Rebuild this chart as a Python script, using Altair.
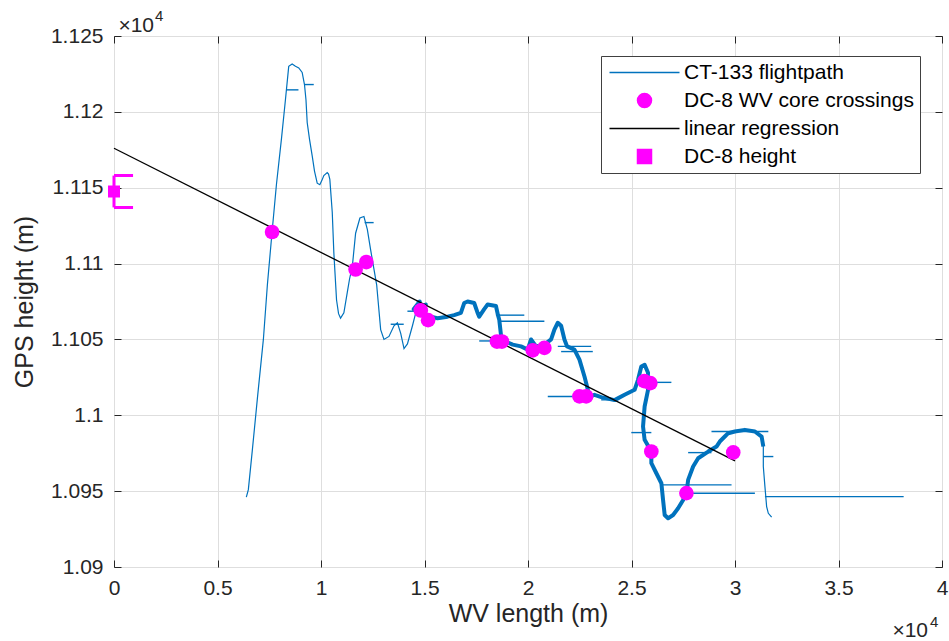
import altair as alt
import pandas as pd

# ---------------- data ----------------
# CT-133 flightpath, main track, in three consecutive stretches
fp_a_x = [6393, 6490, 6683, 6926, 7216, 7410, 7637, 7846, 8088, 8282, 8441, 8606, 8766, 8926,
          9090, 9202, 9274, 9333, 9444, 9575, 9686, 9817, 9943, 10049, 10136, 10301, 10364,
          10427, 10543, 10621, 10751, 10848, 10945, 11105, 11270, 11381, 11512, 11672, 11880,
          12074, 12238, 12398, 12689, 12882, 13042, 13284, 13526, 13691, 13851, 14011, 14175,
          14418, 14577, 14660]
fp_a_y = [10946, 10951, 10977, 11011, 11050, 11086, 11121, 11152, 11182, 11208, 11230, 11231.5,
          11230, 11229, 11226, 11218, 11208, 11193, 11182, 11171, 11161, 11153, 11152, 11155,
          11158, 11160, 11159, 11155.5, 11134, 11107, 11076, 11067, 11064, 11067.5, 11081, 11090,
          11098, 11120, 11130, 11131, 11122.5, 11109, 11086, 11056.5, 11050, 11052, 11059, 11061,
          11054, 11044, 11047, 11059, 11067.5, 11074]

fp_b_x = [14771, 14481, 15062, 14723, 15207, 15304, 15628, 16113, 16432, 16757, 16917, 17081,
          17401, 17566, 17643, 17885, 18050, 18452, 18549, 18612, 18694, 18854, 19261, 19663,
          19987, 20147, 20389, 20791, 21116, 21275, 21440, 21600, 21760, 21890, 22244, 22486,
          22728, 22893, 23000, 23213, 23537, 24182, 24666, 25150, 25315, 25474, 25634, 25799,
          25765, 25799, 25634, 25557, 25634, 25959, 25959, 26201, 26443, 26525, 26603, 26767,
          27009, 27252, 27494, 27654, 27736, 27978, 28220, 28705, 29107, 29266, 29508, 29673,
          29993, 30477, 30961, 31286]
fp_b_y = [11075, 11070, 11073, 11068, 11065.7, 11065, 11064, 11065, 11066, 11067.5, 11074, 11075,
          11074, 11067.5, 11065, 11070, 11073, 11072, 11066, 11063, 11053, 11049, 11046.6, 11045.4,
          11043.3, 11050, 11045.4, 11046.6, 11050, 11056.5, 11061, 11059, 11050, 11045.4, 11043.3,
          11036.7, 11025.6, 11016.8, 11012.4, 11013.5, 11012, 11010, 11013.5, 11016.8, 11023.4,
          11032.2, 11033.3, 11028, 11021.7, 11016.8, 11005.8, 10992.6, 10983.8, 10976.1, 10968.4,
          10961.8, 10955.2, 10944.2, 10934.3, 10932.1, 10934.3, 10938.7, 10944.2, 10948.6, 10957.4,
          10966.2, 10971.7, 10976.1, 10979.4, 10982.7, 10986, 10988.2, 10989.3, 10990.4, 10989.3,
          10986]

fp_c_x = [31368, 31368, 31446, 31528, 31610, 31770]
fp_c_y = [10979.4, 10966.2, 10953, 10939.8, 10935.4, 10932.8]

# horizontal excursions of the flightpath (height, from, to)
spike_y = [11214.5, 11218, 11127, 11060, 11068.6, 11066, 11062, 11049, 11045.4, 11042,
           11012.4, 11010.2, 11021.7, 10988.6, 10954.1, 10948.6, 10975.4, 10989.3, 10972.8, 10946.4]
spike_x0 = [8330, 9202, 12108, 13367, 14175, 18450, 18612, 17643, 21440, 21600,
            20955, 23537, 25765, 24990, 26443, 27654, 27736, 28864, 31368, 31446]
spike_x1 = [8911, 9650, 12543, 13996, 14500, 19822, 20791, 18854, 23053, 23130,
            22950, 24104, 26927, 25959, 29833, 30961, 28864, 31610, 31852, 38148]

# DC-8 wake-vortex core crossings
wv_x = [7637, 11671, 12190, 14820, 15173, 18500, 18742, 20229, 20791, 22486, 22810,
        25619, 25910, 25958, 27653, 29915]
wv_y = [11120.8, 11096.1, 11101.0, 11069.1, 11062.7, 11048.6, 11048.6, 11042.8, 11044.4,
        11012.5, 11012.5, 11022.5, 11021.2, 10976.1, 10948.7, 10975.5]

# linear regression end points
reg_x = [0, 30000]
reg_y = [11176, 10970]

# DC-8 height with its error bar
dc8_x = [0]
dc8_y = [11147.5]
dc8_err = [10.5]

x_ticks = [0, 5000, 10000, 15000, 20000, 25000, 30000, 35000, 40000]
y_ticks = [10900, 10950, 11000, 11050, 11100, 11150, 11200, 11250]

legend_labels = ["CT-133 flightpath", "DC-8 WV core crossings", "linear regression", "DC-8 height"]

# ---------------- styling ----------------
FONT = "Liberation Sans"
TXT = "#262626"
GRID = "#dedede"
BLUE = "#0072BD"
MAG = "#FF00FF"
CAP_HALF = 920  # half width of the error bar caps, data units

W, H = 828, 531
xs = alt.Scale(domain=[0, 40000], nice=False, zero=False)
ys = alt.Scale(domain=[10900, 11250], nice=False, zero=False)

# ---------------- tables ----------------
fp = pd.DataFrame({"x": fp_a_x + fp_b_x + fp_c_x, "y": fp_a_y + fp_b_y + fp_c_y})
fp["i"] = range(len(fp))
n_a, n_b = len(fp_a_x), len(fp_b_x)
fp_thick = fp.iloc[n_a - 1: n_a + n_b + 1]

spikes = pd.DataFrame({"y": spike_y, "x0": spike_x0, "x1": spike_x1})
wv = pd.DataFrame({"x": wv_x, "y": wv_y})
reg = pd.DataFrame({"x": reg_x, "y": reg_y})
dc8 = pd.DataFrame({"x": dc8_x, "y": dc8_y, "lo": [a - b for a, b in zip(dc8_y, dc8_err)],
                    "hi": [a + b for a, b in zip(dc8_y, dc8_err)],
                    "c0": [a - CAP_HALF for a in dc8_x], "c1": [a + CAP_HALF for a in dc8_x]})
leg_df = pd.DataFrame({"series": legend_labels})

# ---------------- axes ----------------
ax_x_main = alt.Axis(values=x_ticks, labelExpr="datum.value / 10000", title="WV length (m)",
                     orient="bottom", grid=True, gridColor=GRID, gridWidth=1, ticks=False, tickSize=0,
                     domain=False, labelFont=FONT, labelFontSize=21, labelColor=TXT, labelPadding=10,
                     labelFlush=False, titleFont=FONT, titleFontSize=25, titleFontWeight="normal",
                     titleColor=TXT, titlePadding=3)
ax_y_main = alt.Axis(values=y_ticks, labelExpr="datum.value / 10000", title="GPS height (m)",
                     orient="left", grid=True, gridColor=GRID, gridWidth=1, ticks=False, tickSize=0,
                     domain=False, labelFont=FONT, labelFontSize=21, labelColor=TXT, labelPadding=11,
                     labelFlush=False, titleFont=FONT, titleFontSize=25, titleFontWeight="normal",
                     titleColor=TXT, titlePadding=13)


def tick_axis(values, orient):
    return alt.Axis(values=values, orient=orient, offset=-7, tickSize=7, ticks=True, labels=False,
                    domain=False, grid=False, title=None, tickColor=TXT, tickWidth=1)


# ---------------- layers ----------------
path_thin = alt.Chart(fp).mark_line(color=BLUE, strokeWidth=1.2).encode(
    x=alt.X("x:Q", scale=xs, axis=ax_x_main),
    y=alt.Y("y:Q", scale=ys, axis=ax_y_main),
    order=alt.Order("i:Q"),
)

path_thick = alt.Chart(fp_thick).mark_line(color=BLUE, strokeWidth=4, strokeJoin="round").encode(
    x=alt.X("x:Q", scale=xs, axis=tick_axis(x_ticks, "bottom")),
    y=alt.Y("y:Q", scale=ys, axis=tick_axis(y_ticks, "left")),
    order=alt.Order("i:Q"),
)

spike_layer = alt.Chart(spikes).mark_rule(color=BLUE, strokeWidth=1.4).encode(
    x=alt.X("x0:Q", scale=xs, axis=None),
    x2="x1:Q",
    y=alt.Y("y:Q", scale=ys, axis=None),
)

reg_layer = alt.Chart(reg).mark_line(color="black", strokeWidth=1.3).encode(
    x=alt.X("x:Q", scale=xs, axis=tick_axis(x_ticks, "top")),
    y=alt.Y("y:Q", scale=ys, axis=tick_axis(y_ticks, "right")),
)

wv_layer = alt.Chart(wv).mark_circle(color=MAG, opacity=1, size=215).encode(
    x=alt.X("x:Q", scale=xs, axis=None),
    y=alt.Y("y:Q", scale=ys, axis=None),
)

err_v = alt.Chart(dc8).mark_rule(color=MAG, strokeWidth=3).encode(
    x=alt.X("x:Q", scale=xs, axis=None),
    y=alt.Y("lo:Q", scale=ys, axis=None),
    y2="hi:Q",
)
err_lo = alt.Chart(dc8).mark_rule(color=MAG, strokeWidth=3, clip=True).encode(
    x=alt.X("c0:Q", scale=xs, axis=None),
    x2="c1:Q",
    y=alt.Y("lo:Q", scale=ys, axis=None),
)
err_hi = alt.Chart(dc8).mark_rule(color=MAG, strokeWidth=3, clip=True).encode(
    x=alt.X("c0:Q", scale=xs, axis=None),
    x2="c1:Q",
    y=alt.Y("hi:Q", scale=ys, axis=None),
)
dc8_sq = alt.Chart(dc8).mark_square(color=MAG, opacity=1, size=144).encode(
    x=alt.X("x:Q", scale=xs, axis=None),
    y=alt.Y("y:Q", scale=ys, axis=None),
)

LEG = alt.Legend(orient="none", legendX=487, legendY=20, title=None, labelFont=FONT,
                 labelFontSize=21, labelColor="black", labelLimit=500, fillColor="white",
                 strokeColor="#404040", padding=6, rowPadding=6,
                 symbolOffset=27, labelOffset=29, symbolStrokeWidth=1.5, symbolOpacity=1)
leg_colors = [BLUE, MAG, "black", MAG]
leg_shapes = ["M-5,0H5", "circle", "M-5,0H5", "square"]
leg_sizes = [196, 196, 196, 125]
legend_layer = alt.Chart(leg_df).mark_point(filled=True, opacity=0).encode(
    fill=alt.Fill("series:N", scale=alt.Scale(domain=legend_labels, range=leg_colors), legend=LEG,
                  sort=legend_labels),
    stroke=alt.Stroke("series:N", scale=alt.Scale(domain=legend_labels, range=leg_colors), legend=LEG,
                      sort=legend_labels),
    shape=alt.Shape("series:N", scale=alt.Scale(domain=legend_labels, range=leg_shapes), legend=LEG,
                    sort=legend_labels),
    size=alt.Size("series:N", scale=alt.Scale(domain=legend_labels, range=leg_sizes), legend=LEG,
                  sort=legend_labels),
)

# exponent annotations (x10^4)
base_df = pd.DataFrame({"t": ["×10"]})
pow_df = pd.DataFrame({"t": ["4"]})
exp_y_base = alt.Chart(base_df).mark_text(align="right", baseline="alphabetic", font=FONT,
                                          fontSize=21, color=TXT).encode(
    text="t:N", x=alt.value(40), y=alt.value(-3.7))
exp_y_pow = alt.Chart(pow_df).mark_text(align="left", baseline="alphabetic", font=FONT,
                                        fontSize=15, color=TXT).encode(
    text="t:N", x=alt.value(41), y=alt.value(-15.3))
exp_x_base = alt.Chart(base_df).mark_text(align="right", baseline="alphabetic", font=FONT,
                                          fontSize=21, color=TXT).encode(
    text="t:N", x=alt.value(814), y=alt.value(600.7))
exp_x_pow = alt.Chart(pow_df).mark_text(align="left", baseline="alphabetic", font=FONT,
                                        fontSize=15, color=TXT).encode(
    text="t:N", x=alt.value(816), y=alt.value(590.7))

chart = alt.layer(
    path_thin, path_thick, spike_layer, reg_layer, wv_layer, err_v, err_lo, err_hi, dc8_sq,
    legend_layer, exp_y_base, exp_y_pow, exp_x_base, exp_x_pow,
).resolve_axis(x="independent", y="independent").properties(
    width=W, height=H,
    autosize=alt.AutoSizeParams(type="none"),
    padding={"left": 114, "top": 36, "right": 7, "bottom": 74},
    background="white",
).configure_view(stroke="#262626", strokeWidth=1)

chart.save("out.html", embed_options={"renderer": "svg", "actions": False})
